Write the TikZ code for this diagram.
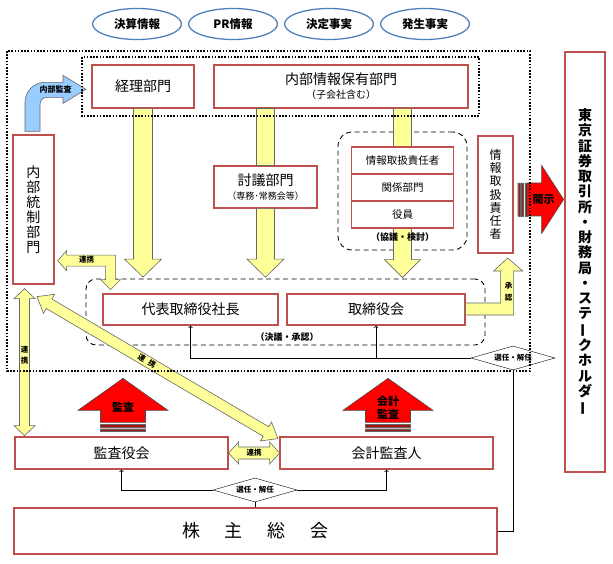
\documentclass[tikz,border=0pt]{standalone}
\usepackage{fontspec}
\setmainfont{Noto Sans CJK JP}
\usepackage{graphicx}
\usepackage{tikz}
\usetikzlibrary{shapes.geometric}
\usetikzlibrary{calc}
\definecolor{boxred}{RGB}{192,80,77}
\definecolor{ellblue}{RGB}{79,129,189}
\definecolor{yel}{RGB}{255,255,153}
\definecolor{skyb}{RGB}{153,204,255}
\definecolor{stripered}{RGB}{160,20,20}
\newcommand{\fsz}[2]{\fontsize{#1}{#2}\selectfont}
\newcommand{\tatebo}{\rotatebox[origin=c]{90}{ー}}
% block arrows along the local x axis: length, half shaft, half head, head length
\newcommand{\oneway}[4]{(0,#2) -- (#1-#4,#2) -- (#1-#4,#3) -- (#1,0) -- (#1-#4,-#3) -- (#1-#4,-#2) -- (0,-#2) -- cycle}
\newcommand{\twoway}[4]{(0,0) -- (#4,#3) -- (#4,#2) -- (#1-#4,#2) -- (#1-#4,#3) -- (#1,0) -- (#1-#4,-#3) -- (#1-#4,-#2) -- (#4,-#2) -- (#4,-#3) -- cycle}
\tikzset{
  box/.style={rectangle,draw=boxred,line width=1.3pt,fill=white,inner sep=0pt,align=center,font=\fsz{14}{15}},
  info/.style={ellipse,draw=ellblue,line width=1.3pt,minimum width=89pt,minimum height=31pt,inner sep=0pt,font=\fsz{11.5}{13}\bfseries},
  yarrow/.style={fill=yel,draw=black!60,line width=0.6pt},
  barrow/.style={fill=skyb,draw=black!60,line width=0.6pt},
  rarrow/.style={fill=red,draw=black!70,line width=0.6pt},
  stripe/.style={fill=stripered,draw=black!60,line width=0.3pt},
  dashframe/.style={rectangle,draw,dash pattern=on 5pt off 3.5pt,line width=0.9pt,inner sep=0pt},
  dotframe/.style={draw,dash pattern=on 1.6pt off 1.6pt,line width=1.6pt},
  lbl/.style={inner sep=0pt,align=center,font=\fsz{7.5}{8.5}\bfseries},
  sel/.style={diamond,draw,fill=white,aspect=3.5,inner sep=0pt,minimum width=84pt,minimum height=24pt,font=\fsz{7.5}{8}\bfseries},
  conn/.style={draw,line width=0.7pt}
}
\begin{document}
\begin{tikzpicture}[x=1pt,y=1pt]
	\useasboundingbox (0,0) rectangle (613,-564);
	\foreach \t [count=\i] in {決算情報,PR情報,決定事実,発生事実}
		\path (41+96*\i,-24) node(info\i)[info]{\t};
	\path (402.5,-191) node(kyogi)[dashframe,rounded corners=14pt,minimum width=129pt,minimum height=118pt]{}
	(285.5,-312) node(ketsugi)[dashframe,rounded corners=10pt,minimum width=399pt,minimum height=66pt]{};
	\path (143,-86.5) node(keiri)[box,minimum width=102pt,minimum height=43pt]{経理部門}
	(341,-86.5) node(naibu)[box,minimum width=254pt,minimum height=43pt]{内部情報保有部門\\[-1pt]{\fsz{10}{11}（子会社含む）}}
	(265.5,-187) node(tougi)[box,minimum width=103pt,minimum height=42pt]{討議部門\\[-1pt]{\fsz{9}{10}（専務･常務会等）}}
	(33.5,-209.5) node(tousei)[box,minimum width=41pt,minimum height=149pt]{内\\部\\統\\制\\部\\門}
	(495.5,-194.5) node(tantou)[box,minimum width=35pt,minimum height=117pt,font=\fsz{12}{13.1}]{情\\報\\取\\扱\\責\\任\\者}
	(585,-262) node(tokyo)[box,minimum width=40pt,minimum height=420pt,font=\fsz{14}{15.25}\bfseries]{東\\京\\証\\券\\取\\引\\所\\・\\財\\務\\局\\・\\ス\\テ\\\tatebo\\ク\\ホ\\ル\\ダ\\\tatebo}
	(190.5,-309.5) node(shachou)[box,minimum width=175pt,minimum height=31pt]{代表取締役社長}
	(376,-309.5) node(torishimari)[box,minimum width=178pt,minimum height=31pt]{取締役会}
	(121.5,-453) node(kansayaku)[box,minimum width=213pt,minimum height=32pt]{監査役会}
	(386.5,-453) node(kaikei)[box,minimum width=213pt,minimum height=32pt]{会計監査人}
	(255.5,-531) node(soukai)[box,minimum width=483pt,minimum height=46pt,font=\fsz{18}{20}]{株\hspace{25pt}主\hspace{25pt}総\hspace{25pt}会};
	% yellow flows down to the board
	\draw[yarrow,shift={(keiri.south)},rotate=-90] \oneway{168.5}{9.5}{18.5}{18};
	\draw[yarrow] ([xshift=-9pt]tougi.north |- naibu.south) rectangle ([xshift=9pt]tougi.north);
	\draw[yarrow,shift={(tougi.south)},rotate=-90] \oneway{68.5}{9}{18.5}{18};
	\draw[yarrow,shift={(kyogi.north |- naibu.south)},rotate=-90] \oneway{169}{9}{18}{18};
	\path (402.5,-160.5) node(row1)[box,minimum width=102pt,minimum height=27pt,font=\fsz{10.5}{12}]{情報取扱責任者}
	(402.5,-187.5) node(row2)[box,minimum width=102pt,minimum height=27pt,font=\fsz{10.5}{12}]{関係部門}
	(402.5,-214.5) node(row3)[box,minimum width=102pt,minimum height=27pt,font=\fsz{10.5}{12}]{役員};
	\path (402.5,-237) node(kyogilbl)[lbl,font=\fsz{9}{10}\bfseries]{（協議・検討）}
	(287,-337) node(ketsugilbl)[lbl,font=\fsz{9}{10}\bfseries]{（決議・承認）};
	% internal audit
	\draw[barrow,shift={(tousei.north)}] (-8.5,3) -- (-8.5,32) to[out=90,in=180] (11.5,52) -- (29.5,52) -- (29.5,59) -- (52.5,45) -- (29.5,31) -- (29.5,37) -- (13.5,37) to[out=180,in=90] (6.5,30) -- (6.5,3) -- cycle;
	\path ([xshift=22pt,yshift=44.5pt]tousei.north) node(naibukansa)[lbl,font=\fsz{8}{9}\bfseries]{内部監査};
	% renkei
	\draw[yarrow,shift={(tousei.south east)}] (3,24) -- (12,34) -- (12,29.5) -- (61,29.5) -- (61,5) -- (66,5) -- (56,-5) -- (46,5) -- (51,5) -- (51,18.5) -- (12,18.5) -- (12,14) -- cycle;
	\path (86.5,-260) node(renkei1)[lbl]{連携};
	\draw[yarrow,shift={([xshift=-9pt,yshift=-4pt]tousei.south)},rotate=-90] \twoway{147}{5}{10.5}{10};
	\path (24.5,-355) node(renkei2)[lbl,font=\fsz{7.5}{11.5}\bfseries]{連\\携};
	\draw[yarrow,shift={([xshift=3.5pt,yshift=-12pt]tousei.south)},rotate=-30.5] \twoway{279.7}{5.5}{11}{14};
	\path (147,-360.5) node(renkei3)[lbl,rotate=-30.5]{連\hspace{4.5pt}携};
	\draw[yarrow,shift={(kansayaku.east)}] \twoway{51}{6}{11}{10};
	\path ($(kansayaku.east)!0.5!(kaikei.west)$) node(renkei4)[lbl]{連携};
	% approval
	\draw[yarrow,shift={(torishimari.east)}] (0,6.5) -- (35,6.5) -- (35,38.5) -- (28,38.5) -- (42,51.5) -- (57,38.5) -- (48,38.5) -- (48,-5.5) -- (0,-5.5) -- cycle;
	\path ([xshift=43pt,yshift=17.5pt]torishimari.east) node(shounin)[lbl,font=\fsz{7.5}{11.5}\bfseries]{承\\認};
	% disclosure
	\draw[stripe,shift={([yshift=-5pt]tantou.east)}] (4,16.5) rectangle (6.3,-16.5) (7.6,16.5) rectangle (9.9,-16.5) (11.2,16.5) rectangle (13.5,-16.5);
	\draw[rarrow,shift={([xshift=14pt,yshift=-5pt]tantou.east)}] \oneway{36}{16.5}{34}{22};
	\path ([xshift=30pt,yshift=-5pt]tantou.east) node(kaiji)[lbl,font=\fsz{11}{12}\bfseries]{開示};
	% audits
	\foreach \n/\t in {kansayaku/監査,kaikei/{会計\\監査}}{
		\draw[rarrow,shift={([xshift=1.5pt,yshift=14pt]\n.north)},rotate=90] \oneway{44}{22.5}{45}{32};
		\draw[stripe,shift={([xshift=1.5pt,yshift=14pt]\n.north)}] (-22.5,-2) rectangle (22.5,-4.7) (-22.5,-6.3) rectangle (22.5,-9);
		\path ([xshift=1.5pt,yshift=29pt]\n.north) node(audit\n)[lbl,font=\fsz{11}{13}\bfseries]{\t};
	}
	% appointment and dismissal
	\path (513,-358) node(sel1)[sel]{選任・解任}
	(255,-490) node(sel2)[sel]{選任・解任};
	\draw[conn] (soukai.east) -| (sel1.south);
	\draw[conn,->] (sel1.west) -| (shachou.south);
	\draw[conn,->] (sel1.west) -| (torishimari.south);
	\draw[conn] (sel2.south) -- (sel2.south |- soukai.north);
	\draw[conn,->] (sel2.west) -| (kansayaku.south);
	\draw[conn,->] (sel2.east) -| (kaikei.south);
	% dotted frames
	\draw[dotframe] (82,-57) rectangle (479,-116);
	\draw[dotframe] (7,-51) rectangle (530,-371);
\end{tikzpicture}
\end{document}
